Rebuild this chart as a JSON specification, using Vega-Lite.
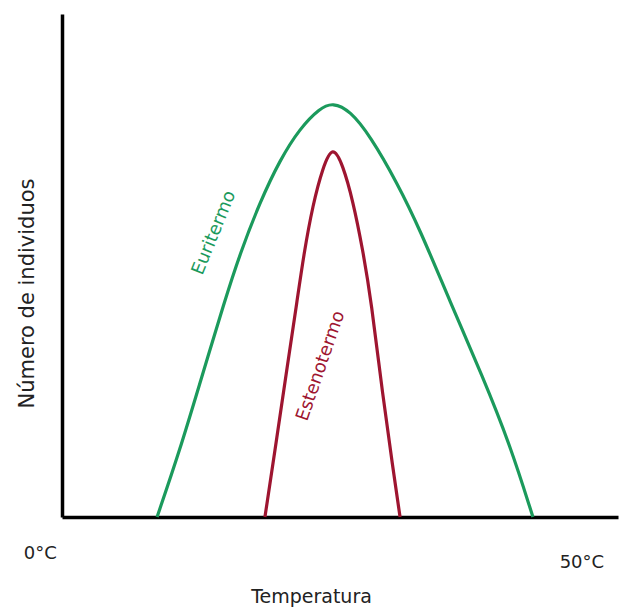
{
  "$schema": "https://vega.github.io/schema/vega-lite/v6.json",
  "width": 556,
  "height": 503,
  "autosize": "none",
  "padding": {"left": 62, "top": 14, "right": 5, "bottom": 90},
  "background": "white",
  "config": {"view": {"stroke": null}, "font": "DejaVu Sans"},
  "datasets": {
    "curves": [
      {"serie": "Euritermo", "t": 17.1, "n": 0},
      {"serie": "Euritermo", "t": 21.2, "n": 13.3},
      {"serie": "Euritermo", "t": 24.8, "n": 26.6},
      {"serie": "Euritermo", "t": 29.3, "n": 43.1},
      {"serie": "Euritermo", "t": 32.0, "n": 52.3},
      {"serie": "Euritermo", "t": 35.6, "n": 62.6},
      {"serie": "Euritermo", "t": 39.2, "n": 71.0},
      {"serie": "Euritermo", "t": 42.8, "n": 77.3},
      {"serie": "Euritermo", "t": 46.4, "n": 81.3},
      {"serie": "Euritermo", "t": 48.7, "n": 82.4},
      {"serie": "Euritermo", "t": 51.8, "n": 80.8},
      {"serie": "Euritermo", "t": 55.4, "n": 75.8},
      {"serie": "Euritermo", "t": 60.3, "n": 66.4},
      {"serie": "Euritermo", "t": 64.4, "n": 57.1},
      {"serie": "Euritermo", "t": 69.8, "n": 42.8},
      {"serie": "Euritermo", "t": 75.7, "n": 27.8},
      {"serie": "Euritermo", "t": 80.6, "n": 14.3},
      {"serie": "Euritermo", "t": 84.7, "n": 0},
      {"serie": "Estenotermo", "t": 36.5, "n": 0},
      {"serie": "Estenotermo", "t": 38.7, "n": 16.2},
      {"serie": "Estenotermo", "t": 40.5, "n": 29.8},
      {"serie": "Estenotermo", "t": 42.3, "n": 43.1},
      {"serie": "Estenotermo", "t": 43.5, "n": 52.3},
      {"serie": "Estenotermo", "t": 45.1, "n": 62.0},
      {"serie": "Estenotermo", "t": 46.9, "n": 69.5},
      {"serie": "Estenotermo", "t": 48.7, "n": 74.0},
      {"serie": "Estenotermo", "t": 50.5, "n": 70.0},
      {"serie": "Estenotermo", "t": 52.3, "n": 63.0},
      {"serie": "Estenotermo", "t": 54.1, "n": 53.1},
      {"serie": "Estenotermo", "t": 55.6, "n": 43.1},
      {"serie": "Estenotermo", "t": 57.7, "n": 24.0},
      {"serie": "Estenotermo", "t": 59.5, "n": 9.9},
      {"serie": "Estenotermo", "t": 60.8, "n": 0}
    ],
    "curveLabels": [
      {"label": "Euritermo", "t": 27.4, "n": 56.5, "angle": 292, "color": "#1b9a5c"},
      {"label": "Estenotermo", "t": 46.6, "n": 30.0, "angle": 289, "color": "#9e1530"}
    ],
    "tickLabels": [
      {"label": "0°C", "t": -3.9, "n": -7.4},
      {"label": "50°C", "t": 93.5, "n": -9.2}
    ]
  },
  "layer": [
    {
      "data": {"name": "curves"},
      "mark": {"type": "line", "interpolate": "basis", "strokeWidth": 3.2},
      "encoding": {
        "x": {
          "field": "t", "type": "quantitative",
          "scale": {"domain": [0, 100], "nice": false, "zero": false},
          "axis": {
            "domain": true, "domainColor": "black", "domainWidth": 3.5,
            "ticks": false, "labels": false, "grid": false,
            "title": "Temperatura", "titleFont": "DejaVu Sans", "titleFontSize": 19,
            "titleFontWeight": "normal", "titleColor": "#222",
            "titleX": 249, "titleY": 79, "titleBaseline": "middle"
          }
        },
        "y": {
          "field": "n", "type": "quantitative",
          "scale": {"domain": [0, 100], "nice": false},
          "axis": {
            "domain": true, "domainColor": "black", "domainWidth": 3.5,
            "ticks": false, "labels": false, "grid": false,
            "title": "Número de individuos", "titleFont": "DejaVu Sans", "titleFontSize": 21,
            "titleFontWeight": "normal", "titleColor": "#222",
            "titleX": -35, "titleY": 279, "titleBaseline": "middle", "titleAlign": "center"
          }
        },
        "detail": {"field": "serie"},
        "color": {
          "field": "serie", "type": "nominal",
          "scale": {"domain": ["Euritermo", "Estenotermo"], "range": ["#1b9a5c", "#9e1530"]},
          "legend": null
        }
      }
    },
    {
      "data": {"name": "curveLabels"},
      "mark": {"type": "text", "font": "DejaVu Sans", "fontSize": 18, "align": "center", "baseline": "middle"},
      "encoding": {
        "x": {"field": "t", "type": "quantitative"},
        "y": {"field": "n", "type": "quantitative"},
        "text": {"field": "label"},
        "angle": {"field": "angle", "type": "quantitative", "scale": null},
        "color": {"field": "color", "type": "nominal", "scale": null}
      }
    },
    {
      "data": {"name": "tickLabels"},
      "mark": {"type": "text", "font": "DejaVu Sans", "fontSize": 18, "align": "center", "baseline": "middle", "color": "#222", "clip": false},
      "encoding": {
        "x": {"field": "t", "type": "quantitative"},
        "y": {"field": "n", "type": "quantitative"},
        "text": {"field": "label"}
      }
    }
  ]
}
